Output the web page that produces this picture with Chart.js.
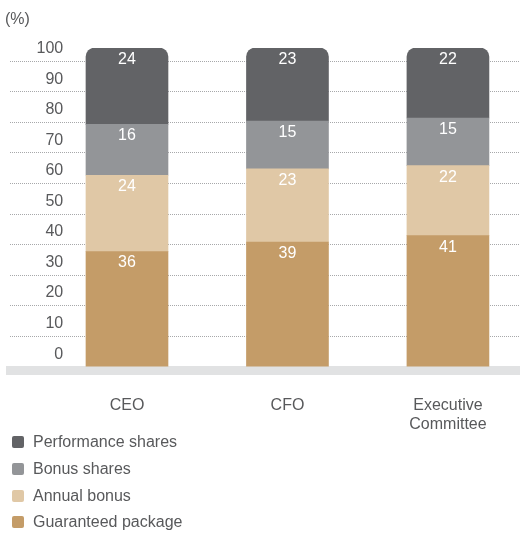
<!DOCTYPE html>
<html>
<head>
<meta charset="utf-8">
<script src="https://cdn.jsdelivr.net/npm/chart.js@4/dist/chart.umd.min.js"></script>
<style>
  body { margin: 0; background: #fff; }
  #wrap { position: relative; width: 520px; height: 533px; }
  #box { position: absolute; left: 0; top: 0; width: 520px; height: 440px; }
  #legend { position: absolute; left: 12px; top: 429px; list-style: none; margin: 0; padding: 0;
    font: 16px "Liberation Sans", Arial, sans-serif; color: #58595b; }
  #legend li { display: flex; align-items: center; height: 26.7px; }
  #legend span { display: inline-block; width: 12px; height: 12px; border-radius: 2px; margin-right: 9px; }
</style>
</head>
<body>
<div id="wrap">
  <div id="box"><canvas id="chart"></canvas></div>
  <ul id="legend"></ul>
</div>
<script>
const categories = ['CEO', 'CFO', 'Executive Committee'];
const guaranteedPackage = [36, 39, 41];
const annualBonus = [24, 23, 22];
const bonusShares = [16, 15, 15];
const performanceShares = [24, 23, 22];
const yTicks = [0, 10, 20, 30, 40, 50, 60, 70, 80, 90, 100];

const FONT = '"Liberation Sans", Arial, sans-serif';
const TEXT = '#58595b';

// values written in white near the top of each segment
const segmentLabels = {
  id: 'segmentLabels',
  afterDatasetsDraw(chart) {
    const ctx = chart.ctx;
    ctx.save();
    ctx.font = '16px ' + FONT;
    ctx.fillStyle = '#ffffff';
    ctx.textAlign = 'center';
    ctx.textBaseline = 'middle';
    chart.data.datasets.forEach((ds, i) => {
      chart.getDatasetMeta(i).data.forEach((bar, j) => {
        const top = Math.min(bar.y, bar.base);
        ctx.fillText(ds.data[j].y, bar.x, top + 11.5);
      });
    });
    ctx.restore();
  }
};

const points = (vals) => vals.map((v, i) => ({ x: i, y: v }));

const datasets = [
  { label: 'Guaranteed package', data: points(guaranteedPackage), backgroundColor: '#c49c68' },
  { label: 'Annual bonus', data: points(annualBonus), backgroundColor: '#e0c8a6' },
  { label: 'Bonus shares', data: points(bonusShares), backgroundColor: '#939598' },
  { label: 'Performance shares', data: points(performanceShares), backgroundColor: '#626366',
    borderRadius: { topLeft: 9, topRight: 9, bottomLeft: 0, bottomRight: 0 }, borderSkipped: false }
];
datasets.forEach(d => { d.barThickness = 82; d.borderWidth = 0; });

const chart = new Chart(document.getElementById('chart'), {
  type: 'bar',
  data: { datasets: datasets },
  options: {
    responsive: true,
    maintainAspectRatio: false,
    animation: false,
    layout: { padding: { left: 5, right: 0, top: 0, bottom: 6 } },
    plugins: {
      legend: { display: false },
      tooltip: { enabled: false },
      title: {
        display: true, text: '(%)', align: 'start', color: TEXT,
        font: { family: FONT, size: 16, weight: 'normal' },
        padding: { top: 10, bottom: 18.8 }
      }
    },
    scales: {
      x: {
        type: 'linear', stacked: true, min: -0.729, max: 2.449, offset: false,
        afterBuildTicks: (s) => { s.ticks = categories.map((c, i) => ({ value: i })); },
        ticks: {
          color: TEXT, font: { family: FONT, size: 16 }, padding: 0, maxRotation: 0, autoSkip: false,
          callback: (v) => { const c = categories[v]; return c && c.includes(' ') ? c.split(' ') : c; }
        },
        // transparent tick marks just make the gap under the grey base band
        grid: { display: true, drawOnChartArea: false, drawTicks: true, tickLength: 25,
          color: 'rgba(0,0,0,0)', tickColor: 'rgba(0,0,0,0)', offset: false },
        border: { display: true, color: '#e1e2e3', width: 9 }
      },
      y: {
        stacked: true, min: -1.415, max: 100, display: false
      },
      yLabels: {
        position: 'left', weight: 0, min: -5.41, max: 100.33,
        afterBuildTicks: (s) => { s.ticks = yTicks.map(v => ({ value: v })); },
        afterFit: (s) => { s.width = 0; },
        ticks: { mirror: true, crossAlign: 'far', padding: 26.5, color: TEXT, font: { family: FONT, size: 16 } },
        grid: { display: false },
        border: { display: false }
      },
      yGrid: {
        position: 'left', weight: 1, min: -1.14, max: 104.25,
        afterBuildTicks: (s) => { s.ticks = yTicks.filter(v => v > 0).map(v => ({ value: v })); },
        ticks: { display: false },
        grid: { color: '#a7a8aa', lineWidth: 1, tickLength: 5, tickColor: 'rgba(0,0,0,0)', borderDash: [1, 1] },
        border: { display: false, dash: [1, 1] }
      }
    }
  },
  plugins: [segmentLabels]
});

// legend as a plain list, top series first
const legend = document.getElementById('legend');
chart.data.datasets.slice().reverse().forEach(ds => {
  const li = document.createElement('li');
  const sw = document.createElement('span');
  sw.style.background = ds.backgroundColor;
  li.appendChild(sw);
  li.appendChild(document.createTextNode(ds.label));
  legend.appendChild(li);
});
</script>
</body>
</html>
